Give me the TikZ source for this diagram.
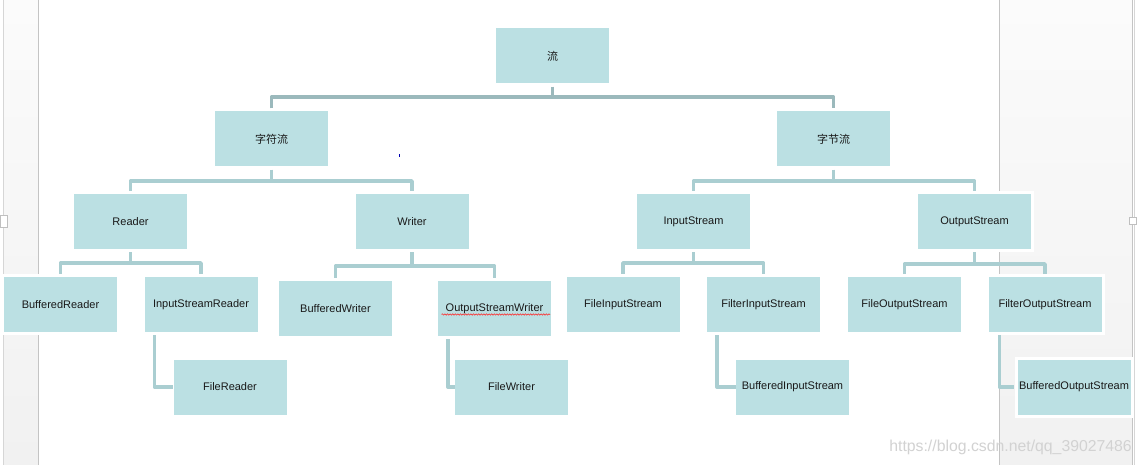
\documentclass[tikz,border=0pt]{standalone}
\usepackage{fontspec}
\setmainfont{Liberation Sans}
\newfontfamily\cjk{Noto Sans CJK SC}
\usetikzlibrary{decorations.pathmorphing}
\definecolor{boxfill}{HTML}{BBE0E3}
\definecolor{connc}{HTML}{AACED1}
\definecolor{conntop}{HTML}{9BB9BC}
\definecolor{panelbot}{HTML}{F1F1F1}
\definecolor{paneltop}{HTML}{FBFBFB}
\definecolor{rulec}{HTML}{C4C4C4}
\newcommand\mytreelink[5][link]{%
  \draw[#1] ([yshift=-3pt]#2.south) -- (#2.south |- 0,#5);
  \draw[#1] ([yshift=3pt]#3.north) -- (#3.north |- 0,#5) -- (#4.north |- 0,#5) -- ([yshift=3pt]#4.north);}
\begin{document}
\begin{tikzpicture}[x=1pt,y=-1pt,
  box/.style={fill=boxfill, minimum width=113pt, minimum height=55pt, inner sep=0pt,
    font=\fontsize{11}{13}\selectfont, text=black!90},
  framed/.style={preaction={draw=white, line width=6pt}},
  link/.style={draw=connc, line width=3.5pt, line join=round},
  toplink/.style={link, draw=conntop},
  panel/.style={top color=paneltop, bottom color=panelbot, draw=none},
  rule/.style={draw=rulec, line width=1pt}]
\useasboundingbox (0,0) rectangle (1141,465);
% page background panels
\fill[white] (0,0) rectangle (1141,465);
\fill[panel] (3,0) rectangle (38,465);
\fill[panel] (999,0) rectangle (1132,465);
\draw[rule, draw=rulec!70] (3,0) -- (3,465);
\draw[rule] (38.5,0) -- (38.5,465);
\draw[rule] (999.5,0) -- (999.5,465);
\draw[rule] (1132,0) -- (1132,465);
\draw[rule, draw=rulec!70] (1134.5,0) -- (1134.5,465);
\draw[fill=white, draw=gray!50, line width=0.6pt] (0,215) rectangle (7,227);
\draw[fill=white, draw=gray!50, line width=0.6pt] (1129,217) rectangle (1136,224);
% watermark
\node[anchor=east, inner sep=0pt, text=gray!35, font=\fontsize{15.8}{18}\selectfont] (wm) at (1132,447) {https://blog.csdn.net/qq\_39027486};
% nodes
\node[box] (liu)   at (552.5,56)  {\cjk 流};
\node[box] (zifu)  at (271.5,139) {\cjk 字符流};
\node[box] (zijie) at (833.5,139) {\cjk 字节流};
\node[box] (rd)  at (130.5,221.5) {Reader};
\node[box] (wr)  at (412,221.5)   {Writer};
\node[box] (is)  at (693.5,221.5) {InputStream};
\node[box, framed] (os)  at (974.5,221.5) {OutputStream};
\node[box, framed] (brd) at (60.5,304.5)  {BufferedReader};
\node[box] (isr) at (201,304.5)   {InputStreamReader};
\node[box] (fr)  at (230,387)     {FileReader};
\node[box] (bw)  at (335.5,308.5) {BufferedWriter};
\node[box] (osw) at (494.5,308.5) {OutputStreamWriter};
\node[box] (fw)  at (511.5,387)   {FileWriter};
\node[box] (fis) at (623,304.5)   {FileInputStream};
\node[box] (fli) at (763.5,304.5) {FilterInputStream};
\node[box] (bis) at (792.5,387)   {BufferedInputStream};
\node[box] (fos) at (904.5,304.5) {FileOutputStream};
\node[box, framed] (flo) at (1045,304.5)  {FilterOutputStream};
\node[box, framed] (bos) at (1074,387)    {BufferedOutputStream};
% spell-check underline
\draw[red!85, line width=0.55pt, decorate, decoration={snake, amplitude=0.7pt, segment length=2.6pt}]
  ([xshift=-53pt,yshift=-6pt]osw.center) -- ([xshift=55.5pt,yshift=-6pt]osw.center);
% tiny cursor mark
\fill[blue!70!black] (398.5,154) rectangle (399.5,157);
% connectors
\mytreelink[toplink]{liu}{zifu}{zijie}{97}
\mytreelink{zifu}{rd}{wr}{181}
\mytreelink{zijie}{is}{os}{181}
\mytreelink{rd}{brd}{isr}{263}
\mytreelink{wr}{bw}{osw}{266}
\mytreelink{is}{fis}{fli}{263}
\mytreelink{os}{fos}{flo}{264}
\draw[link] ([xshift=10pt,yshift=-3pt]isr.south west) |- (fr.west);
\draw[link] ([xshift=10pt,yshift=-3pt]osw.south west) |- (fw.west);
\draw[link] ([xshift=10pt,yshift=-3pt]fli.south west) |- (bis.west);
\draw[link] ([xshift=11pt,yshift=-3pt]flo.south west) |- ([xshift=-3pt]bos.west);
\end{tikzpicture}
\end{document}
